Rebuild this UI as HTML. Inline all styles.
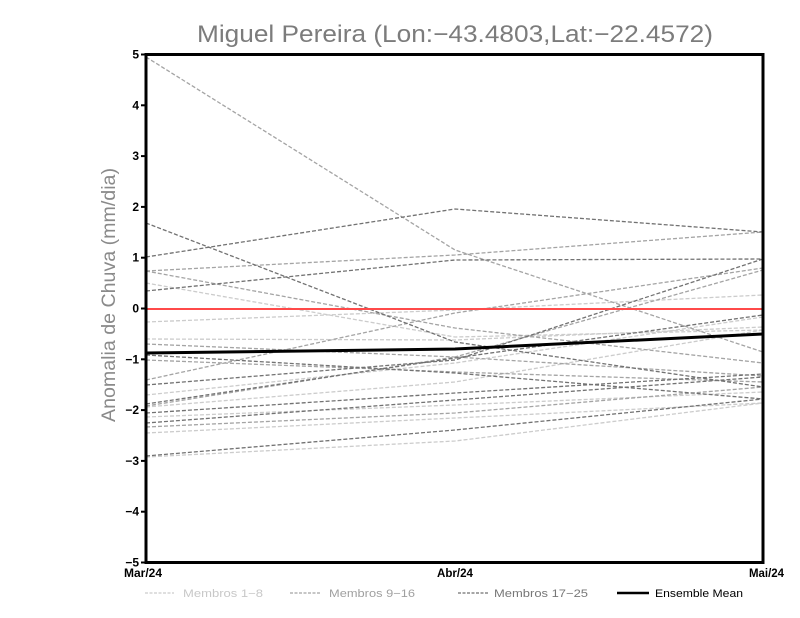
<!DOCTYPE html>
<html>
<head>
<meta charset="utf-8">
<style>
html,body{margin:0;padding:0;background:#fff;}
svg{display:block;}
</style>
</head>
<body>
<svg width="800" height="618" viewBox="0 0 800 618" xmlns="http://www.w3.org/2000/svg">
<rect width="800" height="618" fill="#fff"/>
<!-- title -->
<text x="197" y="42" font-family="Liberation Sans, sans-serif" font-size="24" fill="#7c7c7c" textLength="516" lengthAdjust="spacingAndGlyphs">Miguel Pereira (Lon:−43.4803,Lat:−22.4572)</text>
<!-- y label -->
<text transform="translate(115,295) rotate(-90)" text-anchor="middle" font-family="Liberation Sans, sans-serif" font-size="19" fill="#8a8a8a" textLength="254" lengthAdjust="spacingAndGlyphs">Anomalia de Chuva (mm/dia)</text>

<!-- member lines -->
<g fill="none" stroke-width="1.3" stroke-dasharray="4,2">
  <!-- light (1-8) -->
  <g stroke="#cccccc">
    <polyline points="146,283 455,337 763,330"/>
    <polyline points="146,322 455,310 763,295"/>
    <polyline points="146,339 455,340 763,327"/>
    <polyline points="146,395 455,363 763,317"/>
    <polyline points="146,407 455,382 763,330"/>
    <polyline points="146,417 455,405 763,392"/>
    <polyline points="146,433 455,418 763,403"/>
    <polyline points="146,457 455,441 763,403"/>
  </g>
  <!-- medium (9-16) -->
  <g stroke="#a4a4a4">
    <polyline points="146,57 455,250 763,352"/>
    <polyline points="146,271 455,255 763,232"/>
    <polyline points="146,271 455,328 763,363"/>
    <polyline points="146,344 455,357 763,376"/>
    <polyline points="146,380 455,313 763,268"/>
    <polyline points="146,406 455,357 763,270"/>
    <polyline points="146,427 455,413 763,387"/>
    <polyline points="146,360 455,372 763,382"/>
  </g>
  <!-- dark (17-25) -->
  <g stroke="#727272">
    <polyline points="146,223 455,342 763,387"/>
    <polyline points="146,257 455,209 763,232"/>
    <polyline points="146,291 455,260 763,259"/>
    <polyline points="146,355 455,373 763,399"/>
    <polyline points="146,385 455,360 763,259"/>
    <polyline points="146,404 455,358 763,315"/>
    <polyline points="146,413 455,393 763,374"/>
    <polyline points="146,423 455,400 763,377"/>
    <polyline points="146,456 455,430 763,399"/>
  </g>
</g>

<!-- zero line -->
<line x1="146" y1="309" x2="763" y2="309" stroke="#ff4a4a" stroke-width="2"/>
<!-- ensemble mean -->
<polyline points="146,353 455,349 763,334" fill="none" stroke="#000" stroke-width="3"/>

<!-- frame -->
<rect x="146" y="54.5" width="617" height="508" fill="none" stroke="#000" stroke-width="3"/>

<!-- y ticks -->
<g stroke="#000" stroke-width="2">
  <line x1="141" y1="54.5" x2="146" y2="54.5"/>
  <line x1="141" y1="105.3" x2="146" y2="105.3"/>
  <line x1="141" y1="156.1" x2="146" y2="156.1"/>
  <line x1="141" y1="206.9" x2="146" y2="206.9"/>
  <line x1="141" y1="257.7" x2="146" y2="257.7"/>
  <line x1="141" y1="308.5" x2="146" y2="308.5"/>
  <line x1="141" y1="359.3" x2="146" y2="359.3"/>
  <line x1="141" y1="410.1" x2="146" y2="410.1"/>
  <line x1="141" y1="460.9" x2="146" y2="460.9"/>
  <line x1="141" y1="511.7" x2="146" y2="511.7"/>
  <line x1="141" y1="562.5" x2="146" y2="562.5"/>
</g>
<g font-family="Liberation Sans, sans-serif" font-size="12" font-weight="bold" fill="#000" text-anchor="end">
  <text x="139" y="58.5">5</text>
  <text x="139" y="109.3">4</text>
  <text x="139" y="160.1">3</text>
  <text x="139" y="210.9">2</text>
  <text x="139" y="261.7">1</text>
  <text x="139" y="312.5">0</text>
  <text x="139" y="363.3">−1</text>
  <text x="139" y="414.1">−2</text>
  <text x="139" y="464.9">−3</text>
  <text x="139" y="515.7">−4</text>
  <text x="139" y="566.5">−5</text>
</g>

<!-- x labels -->
<g font-family="Liberation Sans, sans-serif" font-size="12" font-weight="bold" fill="#000">
  <text x="124" y="577" textLength="38" lengthAdjust="spacingAndGlyphs">Mar/24</text>
  <text x="437" y="577" textLength="36" lengthAdjust="spacingAndGlyphs">Abr/24</text>
  <text x="749" y="577" textLength="35" lengthAdjust="spacingAndGlyphs">Mai/24</text>
</g>

<!-- legend -->
<g stroke-width="1.2" stroke-dasharray="3,1.5">
  <line x1="145" y1="593" x2="174" y2="593" stroke="#cccccc"/>
  <line x1="290" y1="593" x2="320" y2="593" stroke="#a4a4a4"/>
  <line x1="458" y1="593" x2="488" y2="593" stroke="#727272"/>
</g>
<line x1="617" y1="593" x2="649" y2="593" stroke="#000" stroke-width="2.5"/>
<g font-family="Liberation Sans, sans-serif" font-size="11">
  <text x="183" y="597" fill="#c8c8c8" textLength="80" lengthAdjust="spacingAndGlyphs">Membros 1−8</text>
  <text x="329" y="597" fill="#a0a0a0" textLength="86" lengthAdjust="spacingAndGlyphs">Membros 9−16</text>
  <text x="494" y="597" fill="#777" textLength="94" lengthAdjust="spacingAndGlyphs">Membros 17−25</text>
  <text x="655" y="597" fill="#000" textLength="88" lengthAdjust="spacingAndGlyphs">Ensemble Mean</text>
</g>
</svg>
</body>
</html>
